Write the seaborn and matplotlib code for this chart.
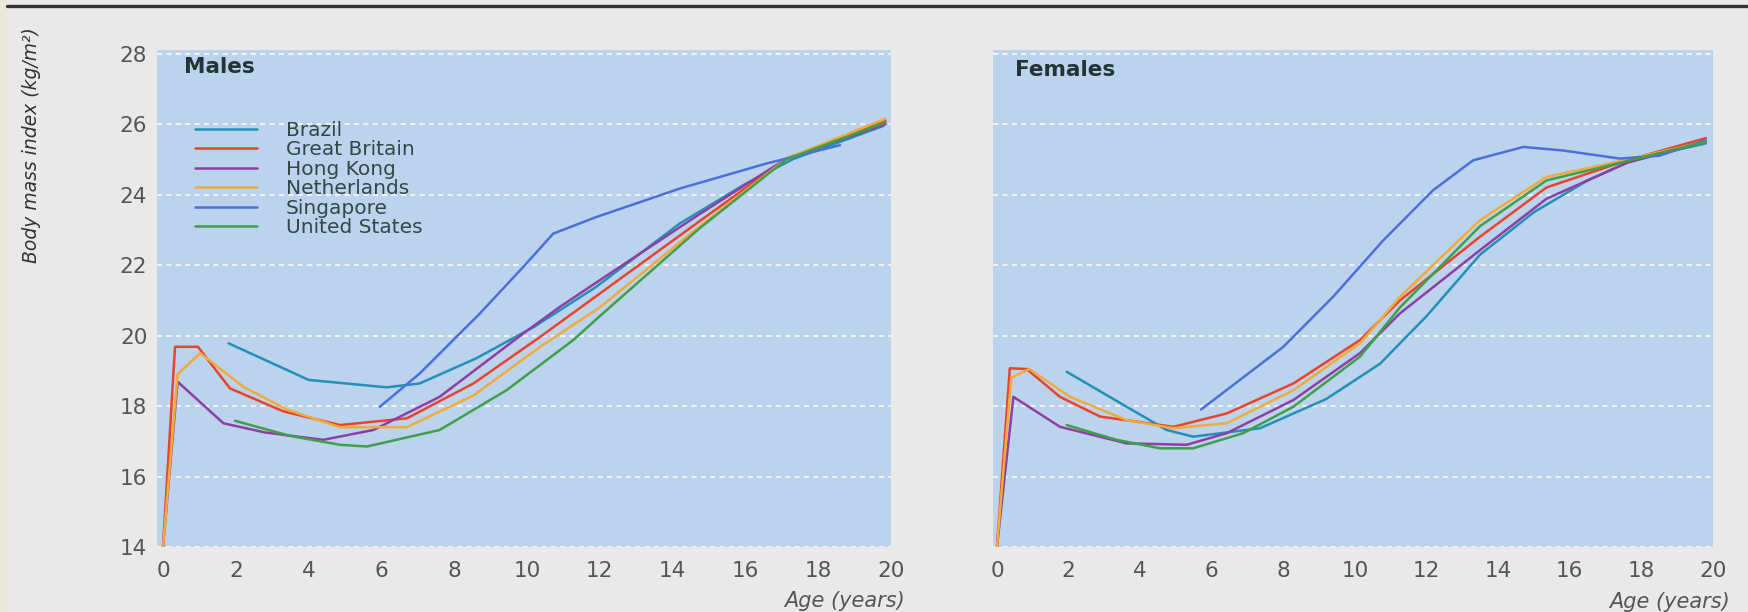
import pandas as pd
import matplotlib
matplotlib.use("Agg")
import matplotlib.pyplot as plt
import seaborn as sns
from matplotlib.lines import Line2D
from matplotlib.patches import Rectangle

# country order and line colours (scan colours)
countries = ["Brazil", "Great Britain", "Hong Kong", "Netherlands", "Singapore", "United States"]
line_colors = ["#2390b8", "#e8432c", "#8e3fa4", "#f2aa3c", "#4c6fdc", "#3f9f4c"]

x_ticks = [0, 2, 4, 6, 8, 10, 12, 14, 16, 18, 20]
y_ticks = [14, 16, 18, 20, 22, 24, 26, 28]

# ---- Males ----
m_brazil_age = [1.8, 4.0, 6.15, 7.05, 8.6, 10.2, 11.9, 14.2, 16.0, 17.3, 19.8]
m_brazil_bmi = [19.78, 18.74, 18.53, 18.64, 19.35, 20.25, 21.38, 23.18, 24.3, 25.0, 25.95]

m_gb_age = [0, 0.33, 0.96, 1.84, 3.3, 4.86, 6.7, 8.53, 10.36, 12.0, 14.75, 17.13, 19.85]
m_gb_bmi = [14, 19.68, 19.68, 18.5, 17.85, 17.46, 17.65, 18.64, 19.96, 21.19, 23.25, 25.02, 26.1]

m_hk_age = [0, 0.4, 1.66, 2.8, 4.4, 5.78, 7.6, 9.9, 10.9, 12.0, 14.75, 17.13, 19.85]
m_hk_bmi = [14, 18.69, 17.51, 17.25, 17.04, 17.32, 18.26, 20.06, 20.81, 21.57, 23.45, 25.02, 26.0]

m_nl_age = [0, 0.4, 1.02, 2.2, 3.4, 4.86, 6.7, 8.53, 10.36, 12.0, 14.75, 17.13, 19.85]
m_nl_bmi = [14, 18.9, 19.5, 18.55, 17.9, 17.4, 17.4, 18.3, 19.68, 20.8, 23.1, 25.02, 26.15]

m_sg_age = [5.96, 7.06, 8.71, 9.9, 10.72, 11.9, 14.2, 16.58, 18.6]
m_sg_bmi = [17.98, 18.93, 20.63, 21.95, 22.89, 23.36, 24.17, 24.88, 25.4]

m_us_age = [1.98, 3.5, 4.86, 5.6, 7.6, 9.44, 11.27, 12.0, 14.75, 17.13, 19.85]
m_us_bmi = [17.58, 17.15, 16.9, 16.85, 17.32, 18.45, 19.87, 20.55, 23.05, 25.0, 26.05]

# ---- Females ----
f_brazil_age = [1.95, 3.62, 4.74, 5.48, 7.35, 9.2, 10.7, 12.0, 13.5, 15.0, 16.5, 17.8, 19.8]
f_brazil_bmi = [18.97, 17.98, 17.32, 17.13, 17.37, 18.2, 19.2, 20.55, 22.3, 23.5, 24.4, 25.0, 25.45]

f_gb_age = [0, 0.36, 0.83, 1.76, 2.88, 4.93, 6.42, 8.28, 10.14, 11.26, 13.49, 15.35, 17.6, 19.8]
f_gb_bmi = [14, 19.07, 19.05, 18.26, 17.7, 17.41, 17.79, 18.64, 19.87, 21.0, 22.8, 24.2, 24.97, 25.6]

f_hk_age = [0, 0.46, 1.76, 3.62, 5.3, 6.42, 8.28, 10.14, 11.26, 13.49, 15.35, 17.6, 19.8]
f_hk_bmi = [14, 18.26, 17.41, 16.94, 16.9, 17.23, 18.17, 19.5, 20.63, 22.42, 23.88, 24.9, 25.5]

f_nl_age = [0, 0.4, 0.9, 2.04, 3.62, 4.93, 6.42, 8.28, 10.14, 11.26, 13.49, 15.35, 17.2, 19.8]
f_nl_bmi = [14, 18.8, 19.05, 18.26, 17.6, 17.37, 17.51, 18.45, 19.78, 21.1, 23.27, 24.5, 24.9, 25.5]

f_sg_age = [5.7, 8.0, 9.39, 10.79, 12.18, 13.3, 14.7, 15.8, 17.4, 18.5, 19.8]
f_sg_bmi = [17.9, 19.68, 21.1, 22.7, 24.12, 24.97, 25.35, 25.25, 25.02, 25.1, 25.54]

f_us_age = [1.95, 3.3, 4.55, 5.48, 6.88, 8.28, 10.14, 11.26, 13.49, 15.35, 17.2, 19.8]
f_us_bmi = [17.46, 17.05, 16.8, 16.8, 17.23, 17.98, 19.4, 20.8, 23.1, 24.4, 24.85, 25.5]

males = [(m_brazil_age, m_brazil_bmi), (m_gb_age, m_gb_bmi), (m_hk_age, m_hk_bmi),
         (m_nl_age, m_nl_bmi), (m_sg_age, m_sg_bmi), (m_us_age, m_us_bmi)]
females = [(f_brazil_age, f_brazil_bmi), (f_gb_age, f_gb_bmi), (f_hk_age, f_hk_bmi),
           (f_nl_age, f_nl_bmi), (f_sg_age, f_sg_bmi), (f_us_age, f_us_bmi)]


def long_table(series):
    rows = []
    for name, (ages, bmis) in zip(countries, series):
        for a, b in zip(ages, bmis):
            rows.append({"country": name, "age": a, "bmi": b})
    return pd.DataFrame(rows)


sns.set_theme(style="white")
plt.rcParams["font.family"] = ["DejaVu Sans"]

W, H = 1748, 612
fig = plt.figure(figsize=(W / 100, H / 100), dpi=100)
fig.patch.set_facecolor("#e9e9e9")

panel_bg = "#bcd3ed"
tick_col = "#555555"
palette = dict(zip(countries, line_colors))

# axes boxes in pixels: (left, right, xmin); top 50, bottom 547
boxes = [(157, 891, -0.165), (993, 1713, -0.11)]
titles = ["Males", "Females"]
axes = []
for i, ((x0, x1, xmin), sex, data) in enumerate(zip(boxes, titles, [males, females])):
    ax = fig.add_axes([x0 / W, 1 - 547 / H, (x1 - x0) / W, (547 - 50) / H])
    ax.set_facecolor(panel_bg)
    df = long_table(data)
    sns.lineplot(data=df, x="age", y="bmi", hue="country", hue_order=countries,
                 palette=palette, estimator=None, sort=False, linewidth=1.8,
                 ax=ax, legend=(i == 0))
    ax.set_xlim(xmin, 20)
    ax.set_ylim(14, 28.1)
    ax.set_xticks(x_ticks)
    ax.set_yticks(y_ticks)
    ax.yaxis.grid(True, color="#eef4fb", linestyle=(0, (2.5, 2)), linewidth=1.5)
    ax.xaxis.grid(False)
    ax.set_axisbelow(True)
    for s in ax.spines.values():
        s.set_visible(False)
    ax.tick_params(axis="both", length=0, labelsize=15.5, labelcolor=tick_col)
    ax.tick_params(axis="x", pad=10)
    ax.tick_params(axis="y", pad=7)
    if i == 1:
        ax.set_yticklabels([])
    ax.set_xlabel("")
    ax.set_ylabel("")
    axes.append(ax)

# panel titles
fig.text(184 / W, 1 - 67 / H, "Males", fontsize=15.5, fontweight="bold",
         color="#233434", ha="left", va="center")
fig.text(1015 / W, 1 - 70 / H, "Females", fontsize=15.5, fontweight="bold",
         color="#233434", ha="left", va="center")

# legend in the males panel
handles, labels = axes[0].get_legend_handles_labels()
axes[0].legend(handles, labels, loc="upper left",
               bbox_to_anchor=(195 / W, 1 - 121 / H), bbox_transform=fig.transFigure,
               frameon=False, fontsize=14.5, handlelength=3.1, handletextpad=1.4,
               labelspacing=0.02, borderpad=0, borderaxespad=0,
               labelcolor="#344646")

# axis labels
fig.text(32 / W, 1 - 145 / H, "Body mass index (kg/m²)", rotation=90,
         fontsize=13.5, style="italic", color="#333333", ha="center", va="center")
fig.text(905 / W, 1 - 601 / H, "Age (years)", fontsize=15, style="italic",
         color="#555555", ha="right", va="center")
fig.text(1730 / W, 1 - 602 / H, "Age (years)", fontsize=15, style="italic",
         color="#555555", ha="right", va="center")

# scan border bits: dark rule at the top, beige strip on the left
fig.add_artist(Line2D([0.004, 1.0], [1 - 6 / H, 1 - 6 / H], color="#333333",
                      linewidth=2.4, transform=fig.transFigure))
fig.add_artist(Rectangle((0, 0), 7 / W, 1, transform=fig.transFigure,
                         facecolor="#ebe8da", edgecolor="none"))

fig.savefig("out.png", dpi=100, facecolor=fig.get_facecolor())
